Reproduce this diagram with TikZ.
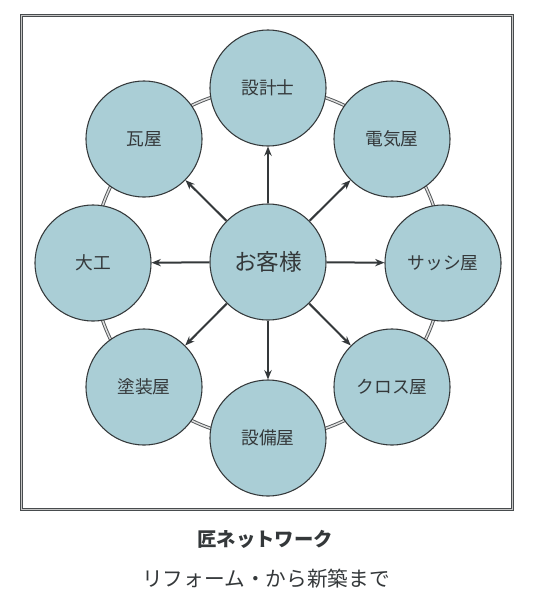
\documentclass[tikz,border=0pt]{standalone}
\usepackage{fontspec}
\setmainfont{Noto Sans CJK JP}
\usetikzlibrary{arrows.meta}
\definecolor{bub}{RGB}{170,206,214}
\definecolor{edge}{RGB}{52,56,58}
\begin{document}
\begin{tikzpicture}[x=0.75pt,y=-0.75pt,
  bubble/.style={circle, draw=edge, line width=0.8pt, fill=bub, minimum size=87pt, inner sep=0pt, font=\fontsize{13.3}{13.3}\selectfont, text=edge},
  arr/.style={draw=edge, line width=1.5pt, -{Stealth[length=7pt,width=5.5pt]}},
  ring/.style={draw=edge!85, line width=0.7pt, double=gray!25, double distance=1.1pt},
  frame/.style={draw=edge!90, line width=1pt, double=gray!45, double distance=0.8pt}]
\useasboundingbox (0,0) rectangle (536,593);
\draw[frame] (21.5,15.5) rectangle (512.5,509.5);
\draw[ring] (268,263) circle[radius=131.25pt];
\node[bubble, font=\fontsize{17}{17}\selectfont] (c) at (268,262) {お客様};
\node[bubble] (n1) at (268,88)  {設計士};
\node[bubble] (n2) at (392,139) {電気屋};
\node[bubble] (n3) at (443,263) {サッシ屋};
\node[bubble] (n4) at (392,387) {クロス屋};
\node[bubble] (n5) at (268,438) {設備屋};
\node[bubble] (n6) at (144,387) {塗装屋};
\node[bubble] (n7) at (93,263)  {大工};
\node[bubble] (n8) at (144,139) {瓦屋};
\foreach \n in {n1,n2,n3,n4,n5,n6,n7,n8} \draw[arr] (c) -- (\n);
\node[font=\bfseries\fontsize{14.5}{14.5}\selectfont, text=edge] (t) at (265,539) {匠ネットワーク};
\node[font=\fontsize{15.5}{15.5}\selectfont, text=edge] (s) at (266,579) {リフォーム・から新築まで};
\end{tikzpicture}
\end{document}
